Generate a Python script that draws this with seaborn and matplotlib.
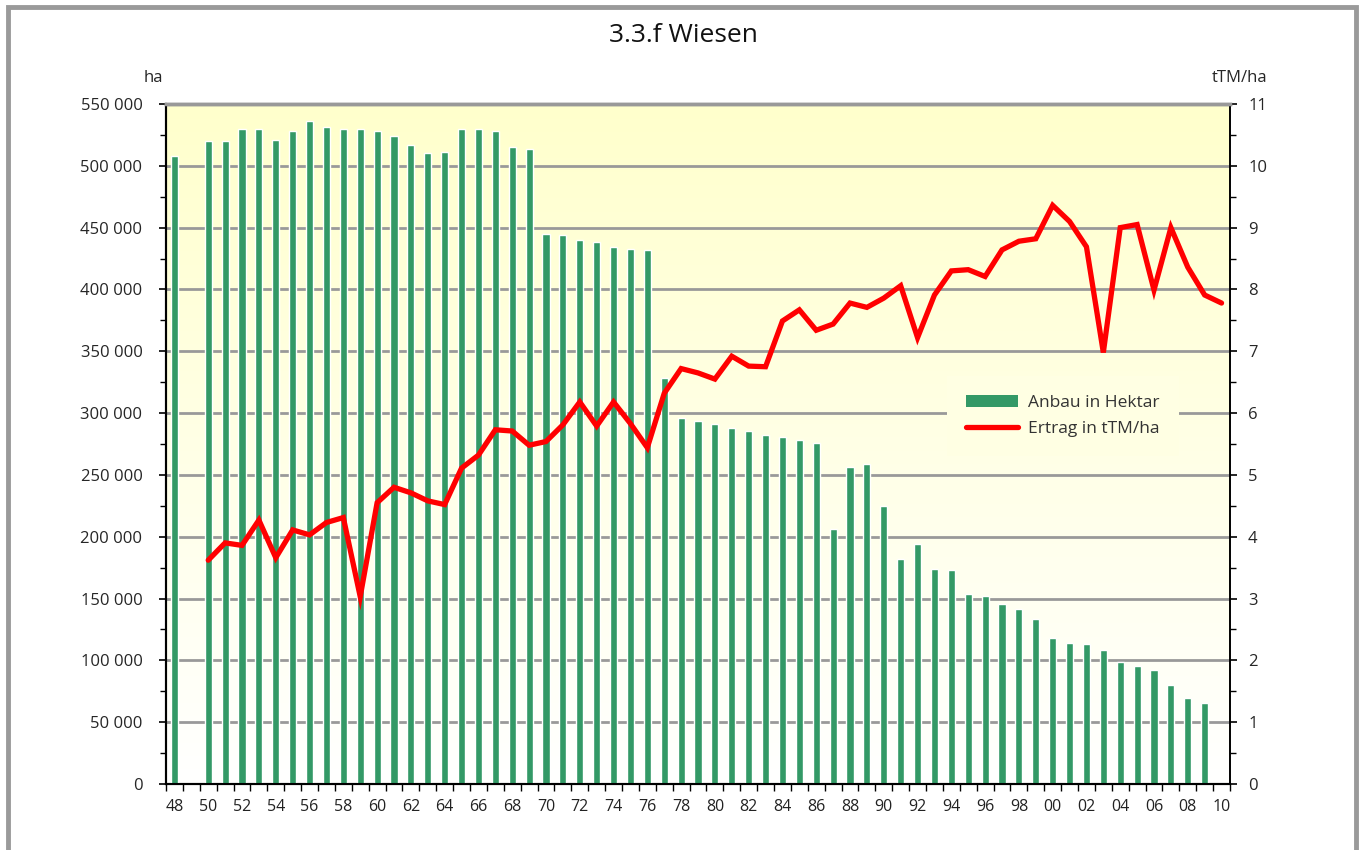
import matplotlib as mpl

mpl.use('Agg')
import matplotlib.pyplot as plt
import matplotlib.ticker as mticker
from matplotlib.patches import Rectangle, Patch
from matplotlib.lines import Line2D
import seaborn as sns
import pandas as pd
import numpy as np

# years 1948 - 2010
years = list(range(1948, 2011))

# Anbau in Hektar (no value for 1949 and 2010)
anbau = [508000, np.nan, 520000, 520000, 530000, 530000, 521000, 528000, 536000, 531000,
         530000, 530000, 528000, 524000, 517000, 510000, 511000, 530000, 530000, 528000,
         515000, 514000, 445000, 444000, 440000, 438000, 434000, 433000, 432000, 328000,
         296000, 294000, 291000, 288000, 285500, 282000, 281000, 278000, 276000, 206000,
         256000, 259000, 225000, 182000, 194000, 174000, 173000, 153500, 152000, 145500,
         141500, 133500, 118000, 114000, 113000, 108000, 98500, 95500, 92000, 80000,
         69500, 65500, np.nan]

# Ertrag in tTM/ha (starts 1950)
ertrag = [np.nan, np.nan, 3.62, 3.90, 3.86, 4.27, 3.66, 4.11, 4.03, 4.23,
          4.31, 3.03, 4.55, 4.80, 4.71, 4.58, 4.52, 5.11, 5.32, 5.73,
          5.71, 5.48, 5.54, 5.81, 6.18, 5.79, 6.18, 5.83, 5.44, 6.32,
          6.72, 6.65, 6.55, 6.92, 6.76, 6.75, 7.49, 7.67, 7.34, 7.44,
          7.78, 7.71, 7.86, 8.06, 7.22, 7.91, 8.30, 8.32, 8.21, 8.64,
          8.78, 8.82, 9.36, 9.10, 8.69, 6.98, 9.00, 9.05, 7.99, 9.00,
          8.36, 7.91, 7.78]

green = '#339966'
red = '#FF0000'
grid_grey = '#999999'

df = pd.DataFrame({'jahr': [str(y) for y in years],
                   'pos': np.arange(len(years)),
                   'anbau': anbau,
                   'ertrag': ertrag})

sns.set_style('white')
plt.rcParams['font.family'] = ['Open Sans', 'DejaVu Sans']

fig = plt.figure(figsize=(13.62, 8.5), dpi=100)
ax = fig.add_axes([166 / 1362, 1 - 784 / 850, (1230 - 166) / 1362, (784 - 104) / 850])
ax2 = ax.twinx()

# yellow -> white background
grad = np.linspace(0, 1, 256).reshape(-1, 1)
cmap = mpl.colors.LinearSegmentedColormap.from_list('bg', ['#FFFFCC', '#FFFFFF'])
ax.imshow(grad, extent=[0, 1, 0, 1], transform=ax.transAxes, aspect='auto',
          cmap=cmap, zorder=0)
ax.patch.set_visible(False)

sns.barplot(data=df, x='jahr', y='anbau', order=df['jahr'].tolist(),
            color=green, saturation=1, width=0.42, errorbar=None,
            ax=ax, zorder=3)

sns.lineplot(x=df['pos'], y=df['ertrag'], color=red, lw=3.8, ax=ax2,
             solid_joinstyle='miter')

# axes limits / ticks
ax.set_xlim(-0.5, len(years) - 0.5)
ax.set_ylim(0, 550000)
ax2.set_ylim(0, 11)

ax.yaxis.set_major_locator(mticker.MultipleLocator(50000))
ax.yaxis.set_minor_locator(mticker.MultipleLocator(25000))
ax.yaxis.set_major_formatter(mticker.FuncFormatter(
    lambda v, p: f'{int(v):,}'.replace(',', ' ')))
ax2.yaxis.set_major_locator(mticker.MultipleLocator(1))
ax2.yaxis.set_minor_locator(mticker.MultipleLocator(0.5))

ax.set_xticks([i for i, y in enumerate(years) if y % 2 == 0])
ax.set_xticklabels([f'{y % 100:02d}' for y in years if y % 2 == 0])
ax.set_xticks(np.arange(-0.5, len(years)), minor=True)

ax.tick_params(axis='y', which='major', direction='out', length=5, width=1.2,
               labelsize=12, pad=12, color='black', left=True)
ax.tick_params(axis='y', which='minor', direction='out', length=4, width=1,
               color='black', left=True)
ax.tick_params(axis='x', which='major', length=0, labelsize=11.5, pad=11,
               labelcolor='#222222')
ax.tick_params(axis='x', which='minor', direction='out', length=5, width=1,
               color='black', bottom=True)
ax2.tick_params(axis='y', which='major', direction='out', length=5, width=1.2,
                labelsize=12, pad=8, color='black', right=True)
ax2.tick_params(axis='y', which='minor', direction='out', length=4, width=1,
                color='black', right=True)

ax.set_xlabel('')
ax.set_ylabel('')
ax2.set_xlabel('')
ax2.set_ylabel('')

# gridlines
ax.grid(axis='y', which='major', color=grid_grey, lw=2, zorder=1)
ax.set_axisbelow(True)

for a in (ax, ax2):
    a.spines['left'].set_color('black')
    a.spines['left'].set_linewidth(1.5)
    a.spines['bottom'].set_color('black')
    a.spines['bottom'].set_linewidth(1.5)
    a.spines['right'].set_color('black')
    a.spines['right'].set_linewidth(1.2)
    a.spines['top'].set_color(grid_grey)
    a.spines['top'].set_linewidth(2.5)

# legend
handles = [Patch(facecolor=green, edgecolor='none'),
           Line2D([0], [0], color=red, lw=3.8)]
leg = ax2.legend(handles, ['Anbau in Hektar', 'Ertrag in tTM/ha'],
                 loc='center', bbox_to_anchor=(0.843, 0.541),
                 frameon=True, fontsize=12.5, handlelength=3.0,
                 handleheight=0.65, borderpad=1.1, labelspacing=0.55,
                 handletextpad=0.6, fancybox=False)
leg.get_frame().set_facecolor('#FFFFE3')
leg.get_frame().set_edgecolor('none')
leg.get_frame().set_alpha(1)
for t in leg.get_texts():
    t.set_color('#333333')

# texts
fig.text(683 / 1362, 1 - 36 / 850, '3.3.f Wiesen', ha='center', va='center',
         fontsize=19, color='#111111')
fig.text(153 / 1362, 1 - 78 / 850, 'ha', ha='center', va='center', fontsize=12)
fig.text(1240 / 1362, 1 - 78 / 850, 'tTM/ha', ha='center', va='center', fontsize=12)

# outer frame
fig.patches.append(Rectangle((8 / 1362, -0.1), (1356 - 8) / 1362, 1.1 - 7 / 850,
                             transform=fig.transFigure, fill=False,
                             edgecolor='#9A9A9A', lw=3.5))

fig.savefig('out.png', dpi=100)
